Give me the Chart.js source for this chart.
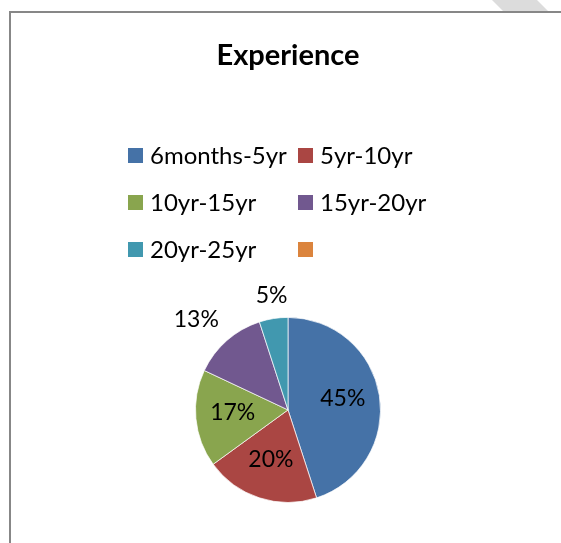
<!DOCTYPE html>
<html>
<head>
<meta charset="utf-8">
<script src="https://cdn.jsdelivr.net/npm/chart.js@4.4.0/dist/chart.umd.min.js"></script>
<style>
  html, body { margin: 0; padding: 0; background: #fff; }
  #wrap { position: relative; width: 561px; height: 543px; overflow: hidden; }
  #frame { position: absolute; left: 9px; top: 11px; right: -10px; bottom: -10px;
           border-left: 2px solid #878787; border-top: 2px solid #878787; }
  #mark { position: absolute; left: 0; top: 0; width: 561px; height: 11px; background: #dcdcdc;
          clip-path: polygon(492px 0, 537px 0, 548px 11px, 503px 11px); }
  #myChart { position: absolute; left: 0; top: 0; }
</style>
</head>
<body>
<div id="wrap">
  <div id="mark"></div>
  <div id="frame"></div>
  <canvas id="myChart" width="561" height="543"></canvas>
</div>
<script>
// chart data
var labels = ["6months-5yr", "5yr-10yr", "10yr-15yr", "15yr-20yr", "20yr-25yr", ""];
var values = [45, 20, 17, 13, 5, 0];
var colors = ["#4572A7", "#AA4643", "#89A54E", "#71588F", "#4198AF", "#DB843D"];

var FONT = "Lato, 'Open Sans', sans-serif";

// legend drawn as 2 column grid, like the excel one
var gridLegend = {
  id: "gridLegend",
  afterDraw: function(chart, args, opts) {
    var ctx = chart.ctx;
    ctx.save();
    ctx.font = opts.fontSize + "px " + FONT;
    ctx.textBaseline = "middle";
    ctx.textAlign = "left";
    chart.data.labels.forEach(function(lab, i){
      var col = i % 2, row = Math.floor(i / 2);
      var x = opts.left + col * opts.colGap;
      var y = opts.top + row * opts.rowGap;
      ctx.fillStyle = chart.data.datasets[0].backgroundColor[i];
      ctx.fillRect(x, y, opts.box, opts.box);
      ctx.fillStyle = "#000";
      ctx.fillText(lab, x + opts.box + 7, y + opts.box / 2 + 1);
    });
    ctx.restore();
  }
};

// percentage labels on / next to the slices
var pctLabels = {
  id: "pctLabels",
  afterDatasetsDraw: function(chart) {
    var ctx = chart.ctx;
    var meta = chart.getDatasetMeta(0);
    var data = chart.data.datasets[0].data;
    var total = data.reduce(function(a, b){ return a + b; }, 0);
    ctx.save();
    ctx.font = "23px " + FONT;
    ctx.fillStyle = "#000";
    meta.data.forEach(function(arc, i){
      var v = data[i];
      if (!v) return;
      var p = arc.getProps(["x", "y", "startAngle", "endAngle", "outerRadius"], true);
      var mid = (p.startAngle + p.endAngle) / 2;
      var pct = v / total;
      var txt = Math.round(pct * 100) + "%";
      var c = Math.cos(mid), s = Math.sin(mid);
      if (pct >= 0.15) {
        ctx.textAlign = "center";
        ctx.textBaseline = "middle";
        ctx.fillText(txt, p.x + c * p.outerRadius * 0.6, p.y + s * p.outerRadius * 0.6 - 3);
      } else {
        var r = p.outerRadius + 12;
        ctx.textAlign = c < -0.3 ? "right" : (c > 0.3 ? "left" : "center");
        ctx.textBaseline = s < 0 ? "bottom" : "top";
        ctx.fillText(txt, p.x + c * r, p.y + s * r);
      }
    });
    ctx.restore();
  }
};

new Chart("myChart", {
  type: "pie",
  data: {
    labels: labels,
    datasets: [{
      data: values,
      backgroundColor: colors,
      borderColor: "rgba(255,255,255,0.7)",
      borderWidth: 1,
      hoverOffset: 0
    }]
  },
  plugins: [gridLegend, pctLabels],
  options: {
    responsive: false,
    animation: false,
    layout: { padding: { left: 195, right: 180, top: 0, bottom: 40 } },
    plugins: {
      legend: { display: false },
      tooltip: { enabled: false },
      title: {
        display: true,
        text: "Experience",
        color: "#000",
        font: { family: FONT, size: 29, weight: "bold", lineHeight: 1.2 },
        padding: { top: 38, bottom: 244 }
      },
      gridLegend: { left: 128, top: 148, colGap: 170, rowGap: 47, box: 15, fontSize: 24 }
    }
  }
});
</script>
</body>
</html>
